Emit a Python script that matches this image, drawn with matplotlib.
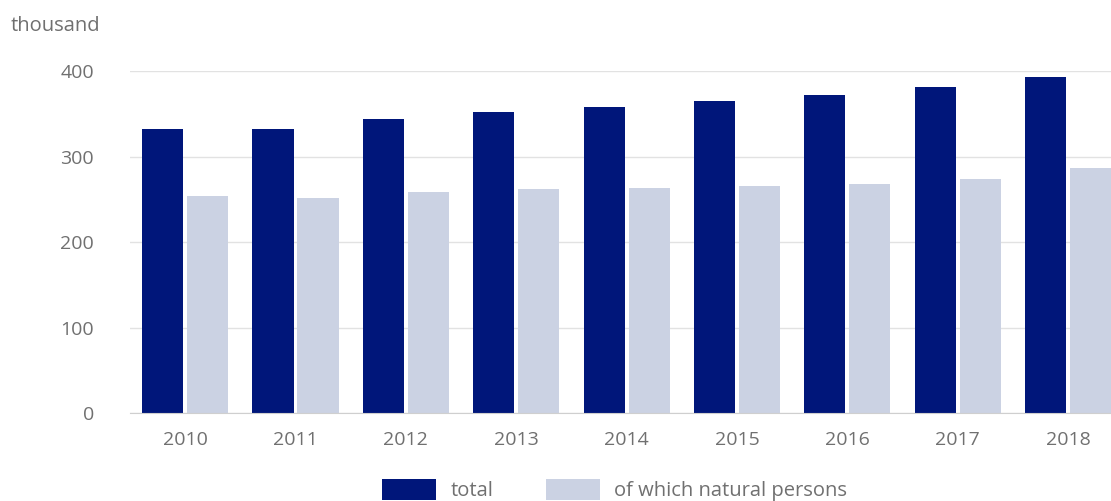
import matplotlib as mpl
import matplotlib.pyplot as plt
import numpy as np

mpl.rcParams['font.family'] = ['Open Sans', 'DejaVu Sans']

years = ['2010', '2011', '2012', '2013', '2014', '2015', '2016', '2017', '2018']
total = [332, 332, 344, 352, 358, 365, 372, 381, 393]
natural = [254, 251, 258, 262, 263, 265, 268, 274, 287]

dark = '#00167a'
light = '#cbd2e3'
grey = '#707070'

fig = plt.figure(figsize=(11.11, 5.01), dpi=100)
ax = fig.add_axes([0.117, 0.1756, 0.883, 0.6826])

x = np.arange(len(years))
w = 0.372
ax.bar(x - w / 2 - 0.018, total, w, color=dark, label='total')
ax.bar(x + w / 2 + 0.018, natural, w, color=light, label='of which natural persons')

ax.set_xlim(-0.5, 8.39)
ax.set_ylim(0, 400)
ax.set_yticks([0, 100, 200, 300, 400])
ax.set_xticks(x)
ax.set_xticklabels(years)
ax.grid(axis='y', color='#e2e2e2', linewidth=1)
ax.set_axisbelow(True)
for s in ['top', 'right', 'left']:
    ax.spines[s].set_visible(False)
ax.spines['bottom'].set_color('#cfcfcf')
ax.tick_params(axis='both', length=0, labelsize=14, labelcolor=grey)
ax.tick_params(axis='y', pad=26)
ax.tick_params(axis='x', pad=13)

fig.text(0.01, 0.948, 'thousand', fontsize=14.5, color=grey, va='center')

leg = fig.legend(loc='upper center', bbox_to_anchor=(0.553, 0.06), ncol=2,
                 frameon=False, fontsize=14.5, handlelength=2.7, handleheight=1.2,
                 columnspacing=2.6, handletextpad=0.7, borderaxespad=0)
for t in leg.get_texts():
    t.set_color(grey)

fig.savefig('out.png', dpi=100)
